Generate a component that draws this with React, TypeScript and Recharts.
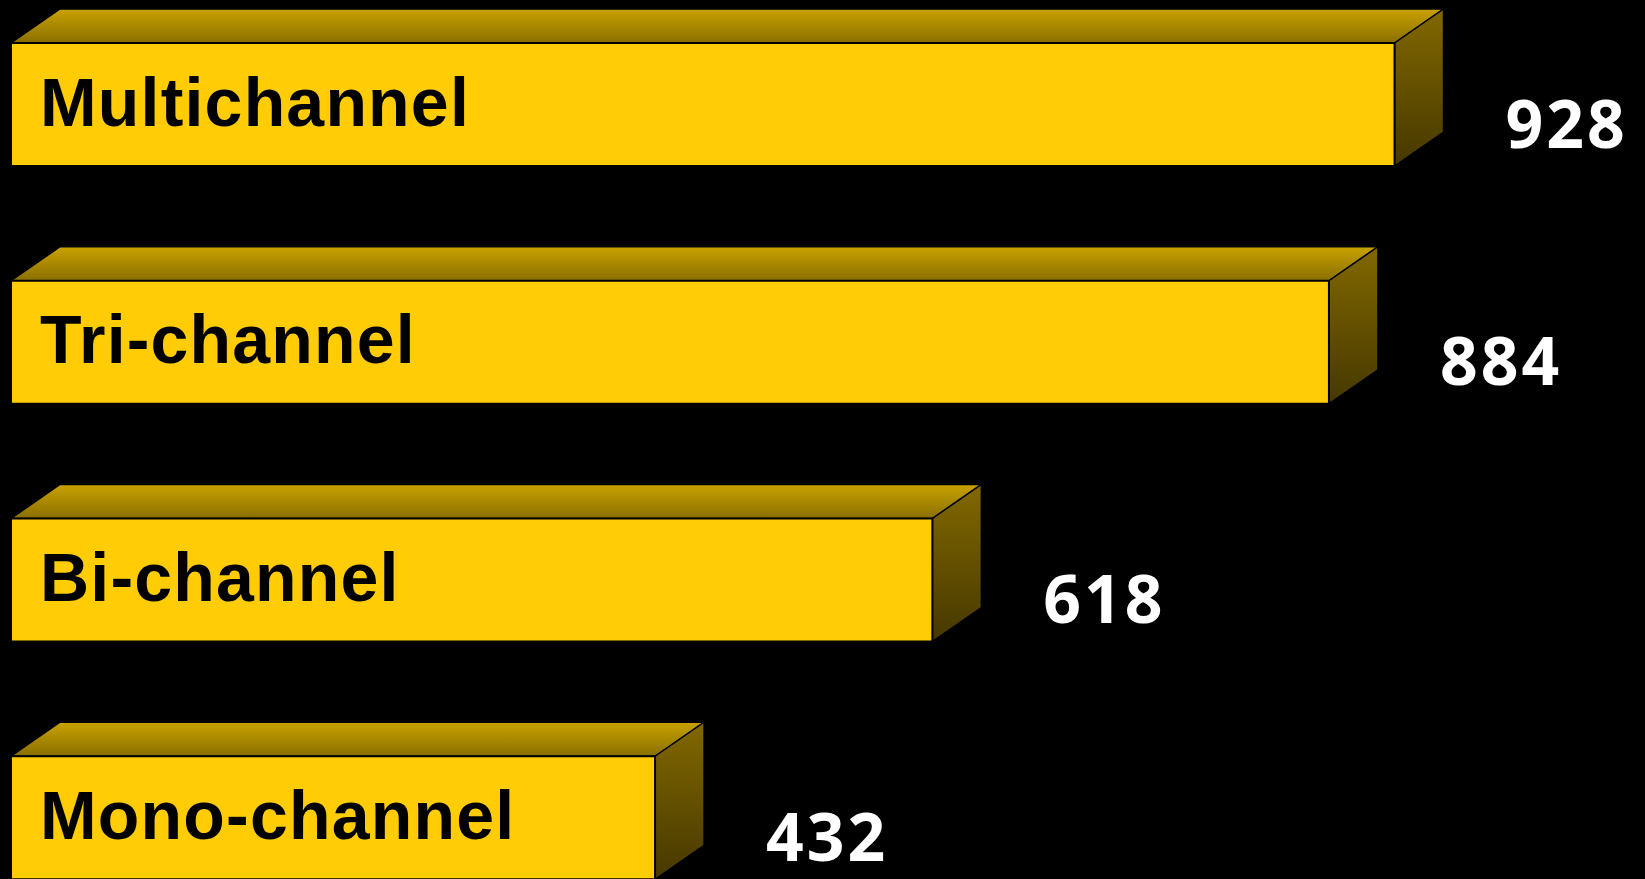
import { BarChart, Bar, XAxis, YAxis, LabelList } from 'recharts'

const categories = ['Multichannel', 'Tri-channel', 'Bi-channel', 'Mono-channel']
const counts = [928, 884, 618, 432]

const rows = categories.map((name, i) => ({ name, count: counts[i] }))

const DX = 49 // depth of the 3D box
const DY = 34

function Box3D(props: any) {
  const { x, y, width, height, index } = props
  const topId = `top-${index}`
  const sideId = `side-${index}`
  const r = x + width
  return (
    <g>
      <defs>
        <linearGradient id={topId} x1="0" y1="0" x2="0" y2="1">
          <stop offset="0%" stopColor="#C9A200" />
          <stop offset="100%" stopColor="#8A6F00" />
        </linearGradient>
        <linearGradient id={sideId} x1="0" y1="0" x2="0" y2="1">
          <stop offset="0%" stopColor="#826800" />
          <stop offset="100%" stopColor="#463800" />
        </linearGradient>
      </defs>
      <polygon
        points={`${x},${y} ${x + DX},${y - DY} ${r + DX},${y - DY} ${r},${y}`}
        fill={`url(#${topId})`}
        stroke="#000"
        strokeWidth={1.5}
      />
      <polygon
        points={`${r},${y} ${r + DX},${y - DY} ${r + DX},${y + height - DY} ${r},${y + height}`}
        fill={`url(#${sideId})`}
        stroke="#000"
        strokeWidth={1.5}
      />
      <rect x={x} y={y} width={width} height={height} fill="#FFCC05" stroke="#000" strokeWidth={2} />
    </g>
  )
}

function NameLabel(props: any) {
  const { x, y, height, value } = props
  return (
    <text
      x={x + 29}
      y={y + height / 2 + 21}
      fill="#000"
      fontFamily="'Liberation Sans', Arial, sans-serif"
      fontWeight="bold"
      fontSize={68}
      letterSpacing={1.2}
    >
      {value}
    </text>
  )
}

function ValueLabel(props: any) {
  const { x, y, width, height, value } = props
  return (
    <text
      x={x + width + DX + 62}
      y={y + height / 2 + 43}
      fill="#fff"
      fontFamily="'Noto Sans', 'Open Sans', sans-serif"
      fontWeight="bold"
      fontSize={66}
      letterSpacing={3}
    >
      {value}
    </text>
  )
}

export default function App() {
  return (
    <div style={{ position: 'fixed', left: 0, top: 0, width: 1645, height: 879, background: '#000', overflow: 'hidden' }}>
      <div style={{ position: 'absolute', left: 0, top: -14 }}>
        <BarChart
          width={1645}
          height={951}
          data={rows}
          layout="vertical"
          margin={{ top: 0, right: 0, bottom: 0, left: 11 }}
        >
          <XAxis type="number" domain={[0, 1096]} hide />
          <YAxis type="category" dataKey="name" hide />
          <Bar dataKey="count" barSize={123} shape={<Box3D />} isAnimationActive={false}>
            <LabelList dataKey="name" content={<NameLabel />} />
            <LabelList dataKey="count" content={<ValueLabel />} />
          </Bar>
        </BarChart>
      </div>
    </div>
  )
}
